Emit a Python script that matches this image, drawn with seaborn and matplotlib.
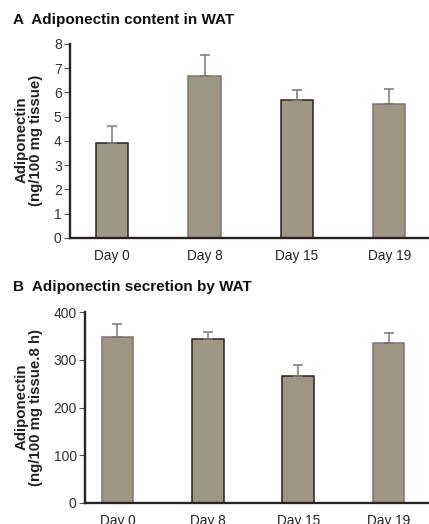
import pandas as pd
import matplotlib.pyplot as plt
import seaborn as sns

days = ['Day 0', 'Day 8', 'Day 15', 'Day 19']

# panel A: content in WAT (ng/100 mg tissue)
content_mean = [3.93, 6.67, 5.68, 5.53]
content_err = [0.70, 0.88, 0.41, 0.61]

# panel B: secretion by WAT (ng/100 mg tissue.8 h)
secretion_mean = [348, 344, 266, 335]
secretion_err = [26, 15, 24, 21]

bar_color = '#9d9683'
dark = '#2b2222'
grey = '#7a7674'

sns.set_style('white')
plt.rcParams['font.family'] = ['Liberation Sans', 'DejaVu Sans']

fig = plt.figure(figsize=(4.29, 5.24), dpi=100)
ax_a = fig.add_axes([70 / 429, 1 - 238 / 524, 359 / 429, 194 / 524])
ax_b = fig.add_axes([85 / 429, 1 - 503 / 524, 344 / 429, 191 / 524])


def draw_panel(ax, means, errs, ymax, step, xlim, edges):
    df = pd.DataFrame({'day': days, 'value': means})
    sns.barplot(data=df, x='day', y='value', color=bar_color, width=0.35,
                errorbar=None, saturation=1, ax=ax)
    for p, ec in zip(ax.patches, edges):
        p.set_edgecolor(ec)
        p.set_linewidth(1.1)
    ax.errorbar(range(len(days)), means, yerr=[[0] * len(errs), errs],
                fmt='none', ecolor=grey, elinewidth=1.1, capsize=3.3,
                capthick=1.1, zorder=1)
    ax.set_ylim(0, ymax)
    ax.set_xlim(*xlim)
    ax.set_yticks(range(0, ymax + 1, step))
    ax.set_xlabel('')
    ax.set_ylabel('')
    for s in ['top', 'right']:
        ax.spines[s].set_visible(False)
    for s in ['left', 'bottom']:
        ax.spines[s].set_color(dark)
        ax.spines[s].set_linewidth(1.7)
    ax.tick_params(axis='y', direction='out', length=4.5, width=0.8,
                   color='#555555', labelsize=10, labelcolor='#333333',
                   pad=1.5, left=True)
    ax.tick_params(axis='x', length=0, labelsize=9.8, labelcolor='#222222',
                   pad=8)


draw_panel(ax_a, content_mean, content_err, 8, 1, (-0.457, 3.43),
           [dark, grey, dark, grey])
draw_panel(ax_b, secretion_mean, secretion_err, 400, 100, (-0.358, 3.447),
           [grey, dark, dark, grey])

fig.text(13 / 429, 1 - 20 / 524, 'A  Adiponectin content in WAT',
         fontsize=11, fontweight='bold', va='center', color='#111111')
fig.text(13 / 429, 1 - 287 / 524, 'B  Adiponectin secretion by WAT',
         fontsize=11, fontweight='bold', va='center', color='#111111')

fig.text(29 / 429, 1 - 140 / 524, 'Adiponectin\n(ng/100 mg tissue)',
         rotation=90, ha='center', va='center', multialignment='center',
         fontsize=10.8, fontweight='bold', color='#222222', linespacing=1.0)
fig.text(29 / 429, 1 - 407 / 524, 'Adiponectin\n(ng/100 mg tissue.8 h)',
         rotation=90, ha='center', va='center', multialignment='center',
         fontsize=10.8, fontweight='bold', color='#222222', linespacing=1.0)

fig.savefig('out.png', dpi=100)
